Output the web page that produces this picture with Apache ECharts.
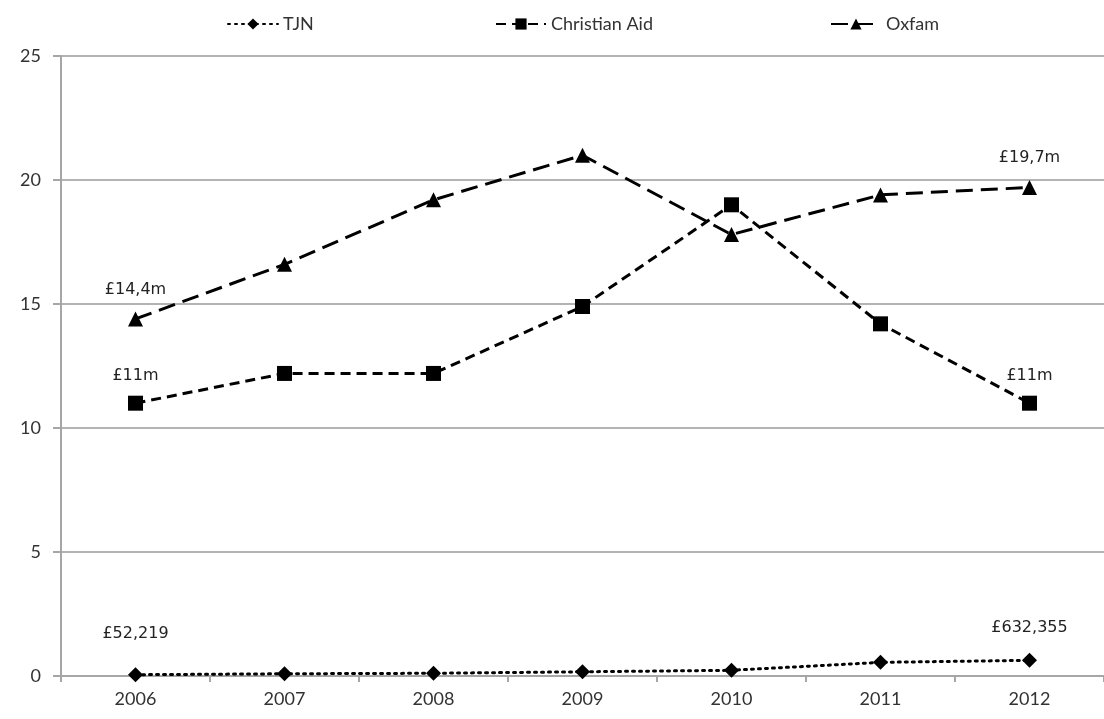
<!DOCTYPE html>
<html><head><meta charset="utf-8">
<script src="https://cdn.jsdelivr.net/npm/echarts@6/dist/echarts.min.js"></script>
<style>html,body{margin:0;padding:0;background:#fff}#c{width:1104px;height:719px}</style>
</head><body><div id="c"></div>
<script>
const years = ['2006','2007','2008','2009','2010','2011','2012'];
const tjn = [0.052, 0.09, 0.11, 0.17, 0.23, 0.55, 0.632];
const christianAid = [11.0, 12.2, 12.2, 14.9, 19.0, 14.2, 11.0];
const oxfam = [14.4, 16.6, 19.2, 21.0, 17.8, 19.4, 19.7];
const yTicks = [0, 5, 10, 15, 20, 25];
const tjnLabels = {0: '£52,219', 6: '£632,355'};
const caLabels = {0: '£11m', 6: '£11m'};
const oxLabels = {0: '£14,4m', 6: '£19,7m'};

const labelStyle = {fontFamily: 'DejaVu Sans', fontSize: 16, color: '#222'};
function build(vals, labels, dist) {
  return vals.map((v, i) => labels[i] ? {value: v, label: Object.assign({show: true, position: 'top', distance: dist[i] || 14, formatter: labels[i]}, labelStyle)} : v);
}
const chart = echarts.init(document.getElementById('c'));
const legendText = {fontFamily: 'Lato', fontSize: 18, color: '#333'};
chart.setOption({
  animation: false,
  legend: [
    {data: ['TJN'], left: 222, top: 10, itemWidth: 50, itemHeight: 14, textStyle: legendText},
    {data: ['Christian Aid'], left: 490, top: 10, itemWidth: 50, itemHeight: 14, textStyle: legendText},
    {data: ['Oxfam'], left: 825, top: 10, itemWidth: 50, itemHeight: 14, textStyle: legendText}
  ],
  grid: {left: 61, right: -6, top: 56, bottom: 43, containLabel: false},
  xAxis: {
    type: 'category', data: years, boundaryGap: true,
    axisLine: {lineStyle: {color: '#a6a6a6', width: 2}},
    axisTick: {show: true, length: 6, lineStyle: {color: '#a6a6a6', width: 2}},
    axisLabel: {fontFamily: 'Lato', fontSize: 18, color: '#333', margin: 14}
  },
  yAxis: {
    type: 'value', min: 0, max: 25, interval: 5,
    axisLine: {show: true, lineStyle: {color: '#a6a6a6', width: 2}},
    axisTick: {show: true, length: 8, lineStyle: {color: '#a6a6a6', width: 2}},
    splitLine: {lineStyle: {color: '#b3b3b3', width: 2}},
    axisLabel: {fontFamily: 'Lato', fontSize: 18, color: '#333', margin: 20,
      formatter: v => yTicks.includes(v) ? String(v) : ''}
  },
  series: [
    {name: 'TJN', type: 'line', data: build(tjn, tjnLabels, {0: 25, 6: 17}),
      symbol: 'diamond', symbolSize: 15, itemStyle: {color: '#000'},
      lineStyle: {color: '#000', width: 3, type: [2, 5], cap: 'round'}},
    {name: 'Christian Aid', type: 'line', data: build(christianAid, caLabels, {0: 12, 6: 12}),
      symbol: 'rect', symbolSize: 15, itemStyle: {color: '#000'},
      lineStyle: {color: '#000', width: 3, type: [10, 6]}},
    {name: 'Oxfam', type: 'line', data: build(oxfam, oxLabels, {0: 14, 6: 14}),
      symbol: 'triangle', symbolSize: 15, itemStyle: {color: '#000'},
      lineStyle: {color: '#000', width: 3, type: [17, 8]}}
  ]
});
</script></body></html>
